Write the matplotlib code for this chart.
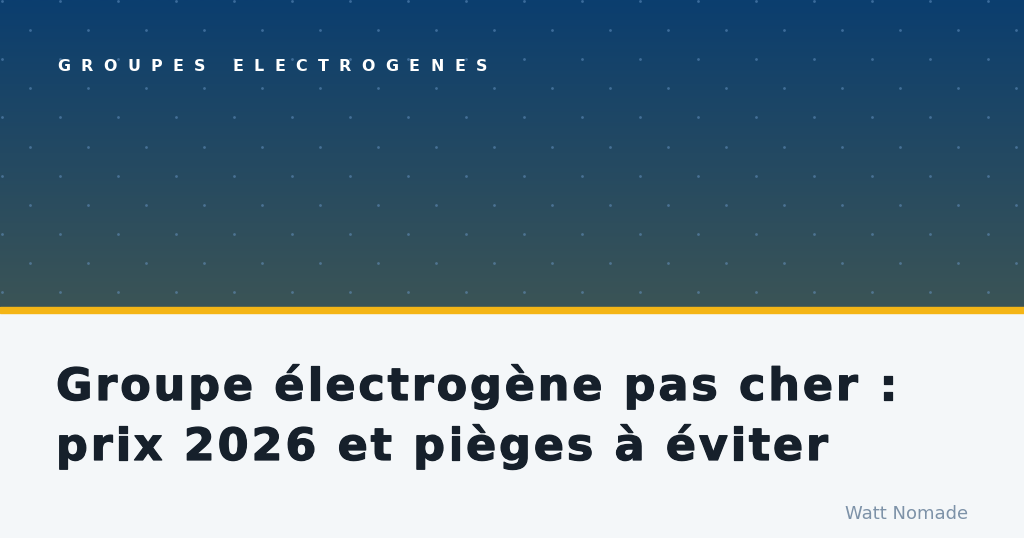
import numpy as np
import matplotlib
matplotlib.use("Agg")
import matplotlib.pyplot as plt
import matplotlib.patheffects as pe
from matplotlib.colors import LinearSegmentedColormap
from matplotlib.font_manager import FontProperties
from matplotlib.patches import Rectangle

# Texts of the banner
kicker = "GROUPES ELECTROGENES"
title_lines = ["Groupe électrogène pas cher :", "prix 2026 et pièges à éviter"]
brand = "Watt Nomade"

# Colours
header_top = "#0b3e6f"
header_bottom = "#3b5456"
gold = "#f4b516"
page_bg = "#f4f7f9"
title_color = "#16202b"
brand_color = "#7d92a8"
dot_color = "#6a98c8"

W, H = 1024, 538
header_h = 307
gold_h = 6

fig = plt.figure(figsize=(W / 100, H / 100), dpi=100)
ax = fig.add_axes([0, 0, 1, 1])
ax.set_xlim(0, W)
ax.set_ylim(H, 0)
ax.axis("off")
renderer = fig.canvas.get_renderer()


def char_width(ch, fp):
    if ch == " ":
        w2 = renderer.get_text_width_height_descent("n n", fp, ismath=False)[0]
        w1 = renderer.get_text_width_height_descent("nn", fp, ismath=False)[0]
        return w2 - w1
    return renderer.get_text_width_height_descent(ch, fp, ismath=False)[0]


def spaced_text(s, x, y, fp, x_end, color, stroke=0):
    # letter-spaced text fitted between x and x_end, one text per character
    total = sum(char_width(ch, fp) for ch in s)
    tracking = (x_end - x - total) / (len(s) - 1)
    effects = [pe.withStroke(linewidth=stroke, foreground=color)] if stroke else None
    for ch in s:
        if ch != " ":
            ax.text(x, y, ch, fontproperties=fp, color=color, path_effects=effects,
                    ha="left", va="baseline", zorder=4)
        x += char_width(ch, fp) + tracking


# page background
ax.add_patch(Rectangle((0, 0), W, H, color=page_bg, zorder=0))

# header gradient
cmap = LinearSegmentedColormap.from_list("hdr", [header_top, header_bottom])
grad = np.linspace(0, 1, 256).reshape(-1, 1)
ax.imshow(grad, cmap=cmap, extent=[0, W, header_h, 0], aspect="auto", zorder=1)

# dot pattern
step_x, step_y = 58, 29.1
for k, y in enumerate(np.arange(1, header_h - 5, step_y)):
    x0 = 2 if k % 2 == 0 else 30
    xs = np.arange(x0, W + 1, step_x)
    ax.scatter(xs, np.full_like(xs, y, dtype=float), s=4, color=dot_color,
               alpha=0.5, linewidths=0, zorder=2)

# gold stripe
ax.add_patch(Rectangle((0, header_h), W, gold_h, color=gold, zorder=3))

# letter-spaced kicker
fp_kick = FontProperties(family="DejaVu Sans", weight="bold", size=11.4)
spaced_text(kicker, 57, 71, fp_kick, 487, "white")

# title
fp_title = FontProperties(family="DejaVu Sans", weight="bold", size=32)
spaced_text(title_lines[0], 56, 400, fp_title, 897, title_color, stroke=0.9)
spaced_text(title_lines[1], 56, 460, fp_title, 828, title_color, stroke=0.9)

# brand
ax.text(968, 519, brand, fontsize=13, color=brand_color, family="DejaVu Sans",
        ha="right", va="baseline", zorder=4)

fig.savefig("out.png", dpi=100, facecolor=page_bg)
